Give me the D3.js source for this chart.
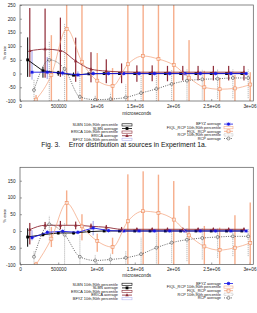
<!DOCTYPE html>
<html><head><meta charset="utf-8">
<script src="https://cdn.jsdelivr.net/npm/d3@7"></script>
<style>
html,body{margin:0;padding:0;background:#fff;}
svg{display:block;}
text{font-family:"Liberation Sans",Arial,sans-serif;}
</style></head>
<body>
<svg id="chart" width="257" height="313"></svg>
<script>
// ---------- data ----------
const xBase = [100000,300000,500000,700000,900000,1100000,1300000,1500000,1700000,1900000,2100000,2300000,2500000,2700000,2900000];
const seriesNames = ["SLBN","ERICA","BFYZ","FIQL_RCP","RCP"];
const seriesShift = [0,28000,57000,110000,83000];
const xTickValues = [0,500000,1000000,1500000,2000000,2500000,3000000];
const xTickLabels = ["0","500000","1e+06","1.5e+06","2e+06","2.5e+06","3e+06"];
const yTicksA = [-100,-50,0,50,100,150,200,250];
const yTicksB = [-100,-50,0,50,100,150];

// Experiment 1a (top)
const slbnAvgA = [50,10,3,-6,-1,0,0,0,0,0,0,0,0,0,0];
const slbnLoA  = [-12,-15,-8,-6,-4,-3,-3,-3,-3,-3,-3,-3,-3,-3,-3];
const slbnHiA  = [132,25,10,4,3,3,3,3,3,3,3,3,3,3,3];
const ericaAvgA = [83,89,84,46,16,9,6,5,5,5,5,5,5,5,5];
const ericaLoA  = [-12,-15,-12,-30,-32,-35,-35,-30,-28,-28,-25,-25,-25,-25,-25];
const ericaHiA  = [239,237,204,131,78,52,37,30,30,28,28,28,28,28,28];
const bfyzAvgA = [5,5,2,-5,0,0,0,0,0,0,0,0,0,0,0];
const bfyzLoA  = [-22,-20,-8,-10,-6,-5,-5,-5,-5,-5,-5,-5,-5,-5,-5];
const bfyzHiA  = [86,60,12,8,8,6,6,6,6,6,6,6,6,6,6];
const fiqlAvgA = [-95,-5,163,43,-26,-45,34,64,53,31,-15,-50,-57,-54,-40];
const fiqlLoA  = [-100,-100,-100,-100,-100,-100,-100,-100,-100,-100,-100,-100,-100,-100,-100];
const fiqlHiA  = [-78,140,270,270,75,20,270,270,270,270,122,10,-15,-5,5];
const rcpAvgA = [-60,50,17,-85,-95,-93,-87,-71,-56,-38,-26,-21,-19,-16,-16];
const rcpLoA  = [-100,-100,-100,-100,-100,-100,-100,-100,-100,-100,-98,-95,-92,-90,-90];
const rcpHiA  = [-22,116,181,2,-78,-70,-40,-5,5,13,15,15,15,15,15];

// Experiment 1b (bottom)
const slbnAvgB = [-18,-11,-6,-6,-2,0,0,0,0,0,0,0,0,0,0];
const slbnLoB  = [-47,-16,-10,-10,-5,-3,-3,-3,-3,-3,-3,-3,-3,-3,-3];
const slbnHiB  = [8,-5,-2,-2,2,3,3,3,3,3,3,3,3,3,3];
const ericaAvgB = [4,17,17,17,14,11,5,5,5,5,5,5,5,5,5];
const ericaLoB  = [-40,5,5,5,5,3,0,0,0,0,0,0,0,0,0];
const ericaHiB  = [24,27,30,28,22,18,12,10,10,10,10,10,10,10,10];
const bfyzAvgB = [-20,-4,-1,-4,9,1,0,0,0,0,0,0,0,0,0];
const bfyzLoB  = [-28,-10,-6,-8,-13,-4,-3,-3,-3,-3,-3,-3,-3,-3,-3];
const bfyzHiB  = [2,2,4,2,30,6,3,3,3,3,3,3,3,3,3];
const fiqlAvgB = [-100,-23,83,14,-30,-48,29,59,54,34,-13,-46,-57,-50,-36];
const fiqlLoB  = [-100,-48,17,-28,-62,-69,-100,-100,-100,-100,-100,-100,-100,-100,-100];
const fiqlHiB  = [-92,12,121,50,-8,-20,169,178,168,149,75,15,10,47,85];
const rcpAvgB = [-77,20,-11,-77,-88,-85,-80,-69,-50,-35,-26,-21,-18,-16,-16];
const rcpLoB  = [-100,-28,-100,-100,-100,-100,-100,-100,-97,-95,-90,-85,-80,-75,-75];
const rcpHiB  = [-60,45,23,-13,-70,-68,-60,-20,-5,3,8,8,8,8,8];

const captionText = "Fig. 3.\u2003 Error distribution at sources in Experiment 1a.";
const legendLeft = ["SLBN 10th,90th percentile","SLBN average","ERICA 10th,90th percentile","ERICA average","BFYZ 10th,90th percentile"];
const legendRight = ["BFYZ average","FIQL_RCP 10th,90th percentile","FIQL_RCP average","RCP 10th,90th percentile","RCP average"];

// ---------- styles ----------
const style = {
  SLBN:    {line:"#000000", bar:"#000000", barW:1.0, dash:null, marker:"sqfill"},
  ERICA:   {line:"#8e2a36", bar:"#8e2a36", barW:1.2, dash:null, marker:"tri"},
  BFYZ:    {line:"#1a1ae6", bar:"#b4b4f0", barW:1.3, dash:null, marker:"star"},
  FIQL_RCP:{line:"#f3a07a", bar:"#f6ae8c", barW:1.4, dash:null, marker:"sqopen"},
  RCP:     {line:"#555555", bar:"#a8a8a8", barW:0.8, dash:"1,1.3", marker:"circ"}
};

const svg = d3.select("#chart");

function drawChart(cfg){
  const x = d3.scaleLinear().domain([0,3050000]).range([20,253.3]);
  const y = d3.scaleLinear().domain(cfg.yDomain).range(cfg.yRange);
  const g = svg.append("g");
  const clipId = "clip"+cfg.id;
  g.append("clipPath").attr("id",clipId).append("rect")
    .attr("x",x.range()[0]).attr("y",y.range()[1])
    .attr("width",x.range()[1]-x.range()[0]).attr("height",y.range()[0]-y.range()[1]);

  // axes
  const ya = d3.axisLeft(y).tickValues(cfg.yTicks).tickSize(-2).tickPadding(4.5).tickFormat(d=>String(d));
  const yg = g.append("g").attr("transform",`translate(${x.range()[0]},0)`).call(ya);
  const xa = d3.axisBottom(x).tickValues(xTickValues).tickSize(-2).tickPadding(3.5).tickFormat((d,i)=>xTickLabels[i]);
  const xg = g.append("g").attr("transform",`translate(0,${y.range()[0]})`).call(xa);
  [yg,xg].forEach(a=>{
    a.select(".domain").remove();
    a.selectAll("line").attr("stroke","#444").attr("stroke-width",0.5);
    a.selectAll("text").attr("font-size",4.7).attr("fill","#222");
  });

  const plot = g.append("g").attr("clip-path",`url(#${clipId})`);
  cfg.series.forEach((s,si)=>{
    const st = style[s.name];
    const shift = seriesShift[seriesNames.indexOf(s.name)];
    const pts = xBase.map((xv,i)=>({x:xv+shift, avg:s.avg[i], lo:s.lo[i], hi:s.hi[i]}));
    if(s.name==="RCP"){
      plot.append("g").selectAll("line").data(pts).join("line")
        .attr("x1",d=>x(d.x)).attr("x2",d=>x(d.x))
        .attr("y1",d=>y(d.lo)).attr("y2",d=>y(d.hi))
        .attr("stroke",st.bar).attr("stroke-width",st.barW).attr("stroke-dasharray","1.2,0.8");
    } else {
      plot.append("g").selectAll("rect").data(pts).join("rect")
        .attr("x",d=>x(d.x)-st.barW/2).attr("width",st.barW)
        .attr("y",d=>y(Math.max(d.lo,d.hi))).attr("height",d=>Math.abs(y(d.lo)-y(d.hi)))
        .attr("fill",st.bar);
    }
  });
  cfg.series.forEach((s,si)=>{
    const st = style[s.name];
    const shift = seriesShift[seriesNames.indexOf(s.name)];
    const pts = xBase.map((xv,i)=>({x:xv+shift, avg:s.avg[i]}));
    const smooth = s.name==="ERICA"||s.name==="FIQL_RCP"||s.name==="RCP";
    const line = d3.line().x(d=>x(d.x)).y(d=>y(d.avg)).curve(smooth?d3.curveMonotoneX:d3.curveLinear);
    plot.append("path").datum(pts).attr("d",line).attr("fill","none")
      .attr("stroke",st.line).attr("stroke-width",s.name==="FIQL_RCP"?0.7:0.9)
      .attr("stroke-dasharray",st.dash);
    const mg = plot.append("g");
    pts.forEach(d=>drawMarker(mg, st.marker, x(d.x), y(d.avg), st.line));
  });

  // border
  g.append("rect").attr("x",x.range()[0]).attr("y",y.range()[1])
    .attr("width",x.range()[1]-x.range()[0]).attr("height",y.range()[0]-y.range()[1])
    .attr("fill","none").attr("stroke","#555").attr("stroke-width",0.7);

  // axis titles
  g.append("text").attr("x",(x.range()[0]+x.range()[1])/2).attr("y",cfg.xTitleY)
    .attr("text-anchor","middle").attr("font-size",4.7).attr("fill","#222").text("microseconds");
  g.append("text").attr("transform",`translate(5.5,${(y.range()[0]+y.range()[1])/2}) rotate(-90)`)
    .attr("text-anchor","middle").attr("font-size",4.2).attr("fill","#222").text("% error");

  // legend
  const lg = g.append("g");
  const keysL = [["SLBN","bar"],["SLBN","avg"],["ERICA","bar"],["ERICA","avg"],["BFYZ","bar"]];
  const keysR = [["BFYZ","avg"],["FIQL_RCP","bar"],["FIQL_RCP","avg"],["RCP","bar"],["RCP","avg"]];
  legendLeft.forEach((t,i)=>{
    const yy = cfg.legY0 + i*3.6;
    lg.append("text").attr("x",118).attr("y",yy+1.3).attr("text-anchor","end")
      .attr("font-size",3.9).attr("fill","#222").text(t);
    legendSym(lg, keysL[i], 122, 132, yy);
  });
  legendRight.forEach((t,i)=>{
    const yy = cfg.legY0 - 0.8 + i*3.6;
    lg.append("text").attr("x",221).attr("y",yy+1.3).attr("text-anchor","end")
      .attr("font-size",3.9).attr("fill","#222").text(t);
    legendSym(lg, keysR[i], 224, 233, yy);
  });
}

function legendSym(lg, key, x1, x2, yy){
  const st = style[key[0]];
  if(key[1]==="bar"){
    lg.append("rect").attr("x",x1).attr("y",yy-1.1).attr("width",x2-x1).attr("height",2.2)
      .attr("fill","none").attr("stroke",st.bar).attr("stroke-width",0.6)
      .attr("stroke-dasharray", key[0]==="RCP"?"0.8,0.6":null);
  } else {
    lg.append("line").attr("x1",x1).attr("x2",x2).attr("y1",yy).attr("y2",yy)
      .attr("stroke",st.line).attr("stroke-width",0.8).attr("stroke-dasharray",st.dash);
    drawMarker(lg, st.marker, (x1+x2)/2, yy, st.line);
  }
}

function drawMarker(g, type, cx, cy, col){
  if(type==="sqfill"){
    g.append("rect").attr("x",cx-1.4).attr("y",cy-1.4).attr("width",2.8).attr("height",2.8).attr("fill",col);
  } else if(type==="tri"){
    g.append("path").attr("d",`M${cx},${cy-1.9}L${cx+1.7},${cy+1.2}L${cx-1.7},${cy+1.2}Z`).attr("fill",col);
  } else if(type==="star"){
    g.append("rect").attr("x",cx-1.2).attr("y",cy-1.2).attr("width",2.4).attr("height",2.4).attr("fill",col);
    g.append("path").attr("d",`M${cx-1.9},${cy}H${cx+1.9}M${cx},${cy-1.9}V${cy+1.9}M${cx-1.5},${cy-1.5}L${cx+1.5},${cy+1.5}M${cx-1.5},${cy+1.5}L${cx+1.5},${cy-1.5}`)
      .attr("stroke",col).attr("stroke-width",0.5);
  } else if(type==="sqopen"){
    g.append("rect").attr("x",cx-1.5).attr("y",cy-1.5).attr("width",3).attr("height",3)
      .attr("fill","#fff").attr("fill-opacity",0.6).attr("stroke","#ef8a5a").attr("stroke-width",0.6);
  } else if(type==="circ"){
    g.append("circle").attr("cx",cx).attr("cy",cy).attr("r",1.5)
      .attr("fill","#fff").attr("fill-opacity",0.6).attr("stroke","#444").attr("stroke-width",0.55);
  }
}

drawChart({
  id:"A", yDomain:[-100,250], yRange:[101,5], yTicks:yTicksA, xTitleY:114.8, legY0:124.9,
  series:[
    {name:"SLBN",avg:slbnAvgA,lo:slbnLoA,hi:slbnHiA},
    {name:"ERICA",avg:ericaAvgA,lo:ericaLoA,hi:ericaHiA},
    {name:"BFYZ",avg:bfyzAvgA,lo:bfyzLoA,hi:bfyzHiA},
    {name:"FIQL_RCP",avg:fiqlAvgA,lo:fiqlLoA,hi:fiqlHiA},
    {name:"RCP",avg:rcpAvgA,lo:rcpLoA,hi:rcpHiA}
  ]
});
svg.append("text").attr("x",124).attr("y",147).attr("text-anchor","middle")
  .attr("font-family","'Liberation Serif','Times New Roman',serif").attr("font-size",6.8).attr("fill","#111")
  .text(captionText);
drawChart({
  id:"B", yDomain:[-100,190], yRange:[264.5,167.3], yTicks:yTicksB, xTitleY:277.3, legY0:284.3,
  series:[
    {name:"SLBN",avg:slbnAvgB,lo:slbnLoB,hi:slbnHiB},
    {name:"ERICA",avg:ericaAvgB,lo:ericaLoB,hi:ericaHiB},
    {name:"BFYZ",avg:bfyzAvgB,lo:bfyzLoB,hi:bfyzHiB},
    {name:"FIQL_RCP",avg:fiqlAvgB,lo:fiqlLoB,hi:fiqlHiB},
    {name:"RCP",avg:rcpAvgB,lo:rcpLoB,hi:rcpHiB}
  ]
});
</script>
</body></html>
